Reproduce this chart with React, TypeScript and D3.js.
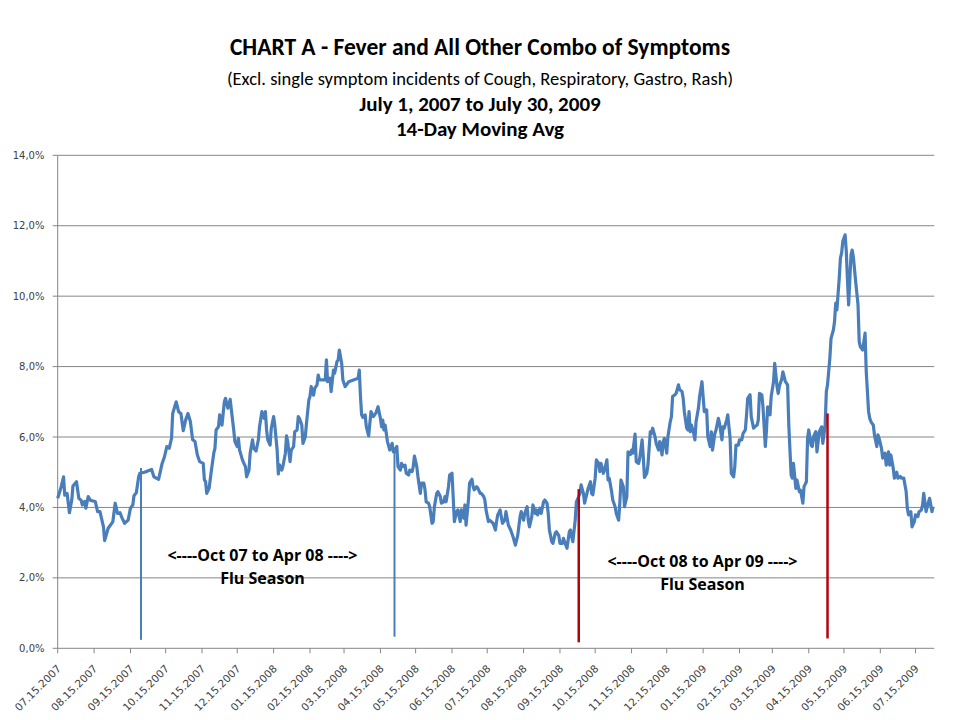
import React from 'react';
import * as d3 from 'd3';

// Days are counted from 2007-07-15 (the first point of the 14-day moving average)
const START_UTC = Date.UTC(2007, 6, 15);
const AXIS_END_DAY = 747;

const titleLines = [
  'CHART A - Fever and All Other Combo of Symptoms',
  '(Excl. single symptom incidents of Cough, Respiratory, Gastro, Rash)',
  'July 1, 2007 to July 30, 2009',
  '14-Day Moving Avg',
];

const tickLabels = [
  '07.15.2007', '08.15.2007', '09.15.2007', '10.15.2007', '11.15.2007', '12.15.2007',
  '01.15.2008', '02.15.2008', '03.15.2008', '04.15.2008', '05.15.2008', '06.15.2008',
  '07.15.2008', '08.15.2008', '09.15.2008', '10.15.2008', '11.15.2008', '12.15.2008',
  '01.15.2009', '02.15.2009', '03.15.2009', '04.15.2009', '05.15.2009', '06.15.2009',
  '07.15.2009',
];

const yTicks = [0, 2, 4, 6, 8, 10, 12, 14];

// [day since 2007-07-15, percent]
const movingAvg: [number, number][] = [
  [0,4.26],[3,4.59],[5,4.87],[6,4.35],[8,4.40],[10,3.85],[12,4.21],[13,4.61],[16,4.73],[18,4.26],[20,4.20],[21,4.07],[23,4.17],[24,3.98],[26,4.31],[28,4.20],[32,4.17],[34,3.88],[36,3.88],[37,3.74],[39,3.45],[40,3.06],[43,3.41],[45,3.50],[47,3.60],[49,4.12],[51,3.83],[53,3.85],[55,3.69],[57,3.55],[60,3.64],[62,3.98],[64,4.07],[65,4.33],[67,4.42],[69,4.87],[70,4.97],[74,5.00],[80,5.08],[82,4.87],[86,4.80],[89,5.25],[91,5.44],[93,5.73],[95,5.68],[97,5.96],[98,6.67],[101,7.00],[103,6.72],[105,6.67],[107,6.18],[109,6.48],[111,6.67],[113,6.45],[115,5.92],[117,5.87],[119,5.49],
  [121,5.30],[124,5.25],[125,4.78],[126,4.74],[127,4.40],[129,4.54],[131,5.06],[133,5.54],[134,5.68],[135,6.20],[137,6.29],[138,6.63],[140,6.34],[142,7.00],[143,7.10],[145,6.82],[147,7.07],[148,6.77],[150,6.20],[151,5.87],[153,5.73],[154,5.96],[155,5.63],[157,5.40],[158,5.30],[160,5.16],[161,4.87],[163,5.06],[164,5.54],[166,5.92],[167,5.68],[169,5.60],[171,5.92],[172,6.29],[174,6.72],[176,6.53],[177,6.72],[178,6.20],[179,5.92],[181,5.77],[182,6.25],[184,6.58],[185,6.34],[187,5.63],[188,4.95],[189,5.21],[191,5.06],[192,5.18],[194,5.54],[195,6.03],[196,5.87],[198,5.30],[199,5.63],[201,5.73],[202,6.15],[204,6.20],[205,6.58],[206,6.53],[208,6.34],[209,5.82],[211,6.01],[212,6.39],[214,7.05],[215,7.15],[216,7.43],[218,7.19],[219,7.38],[221,7.48],[222,7.76],[223,7.62],[226,7.62],[228,7.62],[229,8.19],[230,7.57],[232,7.67],[233,7.29],[235,7.90],[236,7.81],[238,8.14],[239,8.19],[240,8.47],[242,8.09],[243,7.62],[245,7.43],[248,7.57],
  [252,7.62],[256,7.67],[257,7.90],[258,7.15],[259,6.63],[260,6.56],[262,6.63],[263,6.29],[265,6.03],[266,6.39],[267,6.72],[269,6.58],[271,6.67],[273,6.86],[275,6.53],[276,6.29],[277,6.48],[278,6.20],[279,6.34],[281,5.87],[283,5.63],[285,5.82],[286,5.58],[287,5.58],[289,5.73],[290,5.16],[292,5.06],[293,5.25],[294,5.16],[296,5.20],[297,4.97],[299,4.92],[300,5.06],[302,5.02],[303,5.16],[304,5.46],[306,5.16],[307,4.87],[309,4.40],[310,4.69],[312,4.69],[313,4.50],[314,4.16],[316,4.12],[317,4.02],[319,3.55],[320,3.60],[321,4.02],[323,4.40],[324,4.45],[326,4.31],[327,4.12],[329,4.16],[330,4.31],[331,4.16],[333,4.59],[334,4.92],[336,4.97],[337,4.31],[338,3.60],[340,3.88],[341,3.93],[343,3.60],[344,3.93],[346,3.70],[347,4.07],[348,3.50],[350,4.21],[351,4.69],[353,4.80],[354,4.59],[355,4.50],[357,4.59],[358,4.55],[360,4.40],[361,4.40],[363,4.31],[364,4.21],[365,3.93],[367,3.60],
  [368,3.64],[371,3.55],[373,3.36],[374,3.60],[375,3.79],[377,3.93],[379,3.55],[381,3.64],[382,3.88],[384,3.50],[386,3.36],[388,3.17],[390,2.93],[392,3.20],[394,3.74],[395,3.88],[397,3.64],[398,3.83],[400,4.02],[401,3.64],[402,3.45],[404,3.74],[405,4.07],[407,3.83],[408,3.93],[409,3.79],[411,3.98],[412,3.83],[414,4.16],[415,4.21],[417,4.12],[418,3.83],[419,3.36],[421,3.03],[422,2.98],[424,3.27],[425,3.31],[427,3.20],[428,2.98],[430,2.98],[431,3.12],[433,2.93],[434,2.84],[436,3.31],[437,3.36],[438,3.17],[439,3.03],[441,3.64],[442,4.16],[444,4.31],[445,4.40],[446,4.64],[448,4.40],[449,4.12],[451,4.40],[452,4.54],[454,4.73],[455,4.40],[456,4.36],[458,4.83],[459,5.35],[461,5.25],[462,5.02],[463,5.25],[465,4.97],[466,5.06],[468,5.35],[469,4.78],[470,4.83],[472,4.45],[473,4.21],[475,4.02],[476,3.83],[478,3.64],[479,4.12],[480,4.78],[482,4.59],[483,4.02],[485,4.31],[486,5.58],[488,5.50],[489,5.63],[490,5.54],[492,6.08],[493,5.30],[495,5.25],[496,5.40],
  [498,5.92],[499,5.44],[500,4.85],[502,4.97],[503,5.21],[505,6.15],[506,6.10],[507,6.25],[509,6.01],[510,5.82],[512,5.63],[513,5.87],[515,5.49],[516,5.87],[517,5.96],[519,5.54],[520,6.01],[522,6.44],[523,6.58],[524,7.15],[526,7.20],[527,7.24],[529,7.48],[530,7.34],[532,7.29],[533,7.10],[534,6.72],[536,6.25],[537,6.20],[538,6.72],[539,6.15],[540,6.34],[542,6.10],[543,5.92],[544,6.44],[546,6.82],[547,7.15],[549,7.57],[550,7.15],[551,6.72],[553,6.77],[554,6.01],[556,5.73],[557,6.15],[558,5.63],[560,6.10],[561,6.20],[563,6.53],[564,6.39],[566,5.92],[567,6.29],[568,6.25],[570,6.48],[571,6.63],[573,5.96],[574,4.97],[576,4.87],[577,5.16],[578,5.77],[580,5.77],[581,5.92],[583,5.92],[584,6.10],[586,6.20],[587,6.63],[588,7.10],[590,7.20],[591,6.58],[593,6.25],[594,6.29],[596,6.34],[597,6.48],[598,7.24],[600,7.20],[601,6.86],[603,5.73],[604,6.20],[605,6.86],[607,6.63],[608,7.15],[610,7.57],[611,8.09],[613,7.43],[614,7.24],[615,7.45],[617,7.65],[618,7.85],[620,7.58],[622,7.48],[623,6.34],
  [625,4.92],[626,4.83],[627,5.25],[629,4.54],[630,4.78],[632,4.45],[633,4.49],[635,4.12],[636,4.59],[638,4.73],[639,5.96],[640,6.20],[642,5.77],[643,5.73],[644,6.00],[646,6.15],[647,5.58],[649,6.15],[651,6.29],[652,5.82],[654,6.34],[655,7.29],[656,7.48],[658,8.24],[659,8.80],[661,9.04],[662,9.28],[663,9.80],[664,9.61],[666,10.51],[667,11.08],[668,11.22],[669,11.55],[671,11.74],[672,11.27],[673,10.46],[674,9.75],[676,11.17],[677,11.31],[678,11.12],[680,10.41],[682,9.75],[683,8.71],[684,8.56],[686,8.47],[688,8.95],[689,7.86],[691,6.72],[692,6.53],[693,6.44],[695,6.34],[696,6.06],[698,5.73],[699,6.06],[700,5.96],[702,5.68],[703,5.40],[705,5.54],[706,5.20],[708,5.58],[709,5.20],[710,5.49],[712,5.11],[713,4.83],[715,5.00],[716,4.83],[718,4.88],[719,4.83],[721,4.83],[723,4.45],[724,3.98],[725,3.79],[727,3.88],[728,3.45],[730,3.60],[731,3.79],[733,3.74],[734,3.88],[736,3.93],[737,4.07],[738,4.40],[740,3.88],[741,4.02],[743,4.26],[744,4.07],[745,3.88],[746,4.02],
];

// flu-season boundary markers: [day, top %, bottom %]
const blueMarkers: [number, number, number][] = [[71, 5.12, 0.24], [287, 5.70, 0.33]];
const redMarkers: [number, number, number][] = [[444, 4.52, 0.17], [656, 6.67, 0.28]];

const seasonNotes = [
  { arrow: '<----Oct 07 to Apr 08 ---->', label: 'Flu Season' },
  { arrow: '<----Oct 08 to Apr 09 ---->', label: 'Flu Season' },
];

const W = 960, H = 720;
const PLOT = { left: 57.7, right: 934.3, top: 155.3, bottom: 648.3 };
const TITLE_FONT = 'Calibri, Carlito, Lato, "Open Sans", sans-serif';
const NOTE_FONT = '"Open Sans", Lato, sans-serif';
const AXIS_FONT = '"DejaVu Sans", Verdana, sans-serif';
const GRID = '#868686';
const BLUE = '#4A7EBB';
const RED = '#B0040E';

const dayToDate = (d: number) => new Date(START_UTC + d * 86400000);
const parseTick = d3.utcParse('%m.%d.%Y');

export default function App() {
  const x = d3.scaleUtc()
    .domain([dayToDate(0), dayToDate(AXIS_END_DAY)])
    .range([PLOT.left, PLOT.right]);
  const y = d3.scaleLinear().domain([0, 14]).range([PLOT.bottom, PLOT.top]);
  const line = d3.line<[number, number]>()
    .x((d) => x(dayToDate(d[0])))
    .y((d) => y(d[1]))
    .curve(d3.curveLinear);
  const fmtY = (v: number) => v.toFixed(1).replace('.', ',') + '%';

  const notePos = [
    { cx: 262.5, y1: 561, y2: 584 },
    { cx: 702.5, y1: 567, y2: 590 },
  ];

  return (
    <svg width={W} height={H} style={{ position: 'absolute', left: 0, top: 0, background: '#fff' }}>
      <rect width={W} height={H} fill="#fff" />
      {/* title */}
      <g fontFamily={TITLE_FONT} fill="#000" textAnchor="middle">
        <text x={480} y={55} fontSize={23.5} fontWeight="bold">{titleLines[0]}</text>
        <text x={480} y={85} fontSize={18.5}>{titleLines[1]}</text>
        <text x={480} y={111} fontSize={21} fontWeight="bold">{titleLines[2]}</text>
        <text x={480} y={136} fontSize={21} fontWeight="bold">{titleLines[3]}</text>
      </g>

      {/* gridlines */}
      {yTicks.map((t) => (
        <line key={'g' + t} x1={PLOT.left} x2={PLOT.right} y1={y(t)} y2={y(t)} stroke={GRID} strokeWidth={1} />
      ))}
      {/* y axis */}
      <line x1={PLOT.left} x2={PLOT.left} y1={PLOT.top} y2={PLOT.bottom} stroke={GRID} strokeWidth={1} />
      {yTicks.map((t) => (
        <g key={'yt' + t}>
          <line x1={PLOT.left - 5} x2={PLOT.left} y1={y(t)} y2={y(t)} stroke={GRID} />
          <text x={44.5} y={y(t)} dy="0.35em" textAnchor="end" fontFamily={AXIS_FONT} fontSize={10} fill="#404040">
            {fmtY(t)}
          </text>
        </g>
      ))}
      {/* x axis */}
      {tickLabels.map((lbl) => {
        const tx = x(parseTick(lbl) as Date);
        return (
          <g key={lbl}>
            <line x1={tx} x2={tx} y1={PLOT.bottom} y2={PLOT.bottom + 5} stroke={GRID} />
            <text
              transform={`translate(${tx + 4},${PLOT.bottom + 21}) rotate(-45)`}
              textAnchor="end"
              fontFamily={AXIS_FONT}
              fontSize={10.5}
              fill="#404040"
            >
              {lbl}
            </text>
          </g>
        );
      })}

      {/* season annotations */}
      {seasonNotes.map((n, i) => (
        <g key={'n' + i} fontFamily={NOTE_FONT} fontWeight="bold" fontSize={16} textAnchor="middle" fill="#000">
          <text x={notePos[i].cx} y={notePos[i].y1}>{n.arrow}</text>
          <text x={notePos[i].cx} y={notePos[i].y2}>{n.label}</text>
        </g>
      ))}

      {/* main series */}
      <path d={line(movingAvg) || ''} fill="none" stroke={BLUE} strokeWidth={3.2} strokeLinejoin="round" />

      {/* markers */}
      {blueMarkers.map((m, i) => (
        <line key={'b' + i} x1={x(dayToDate(m[0]))} x2={x(dayToDate(m[0]))} y1={y(m[1])} y2={y(m[2])} stroke={BLUE} strokeWidth={2} />
      ))}
      {redMarkers.map((m, i) => (
        <line key={'r' + i} x1={x(dayToDate(m[0]))} x2={x(dayToDate(m[0]))} y1={y(m[1])} y2={y(m[2])} stroke={RED} strokeWidth={2.5} />
      ))}
    </svg>
  );
}
